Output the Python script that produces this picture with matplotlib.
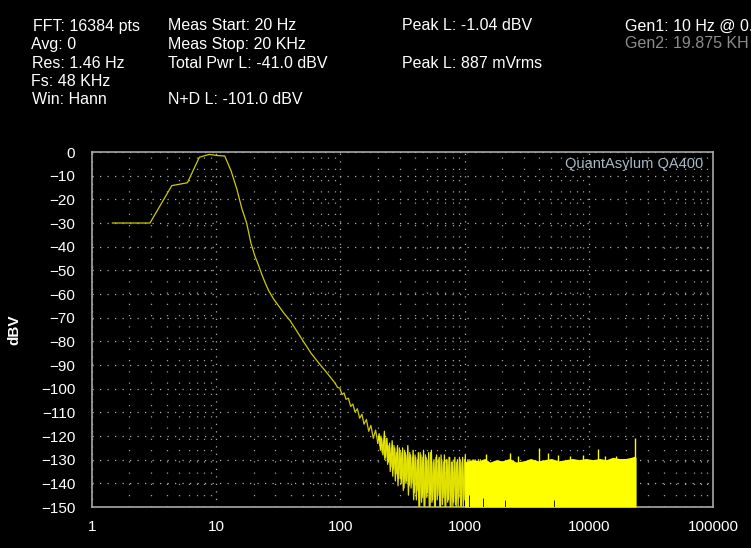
import matplotlib
matplotlib.use('Agg')
from matplotlib import pyplot as plt
from matplotlib.ticker import FixedLocator, NullFormatter

plt.rcParams['font.family'] = ['Liberation Sans', 'DejaVu Sans']

# spectrum trace, low part (Hz, dBV)
trace_hz = [1.46, 2.93, 4.39, 5.86, 7.32, 8.79, 10.25, 11.72, 13.18, 14.65,
            16.11, 17.58, 19.04, 20.5, 21.97, 23.4, 24.9, 26.4, 27.8, 29.3,
            30.8, 35, 39.3, 45, 50.3, 58, 68.5, 77, 85, 90,
            95, 99, 103, 107, 111, 116, 121, 126, 131, 137,
            143, 149, 155, 162, 169, 176, 184, 192, 200]
trace_db = [-30, -30, -14.2, -13, -2.2, -1.0, -1.5, -1.7, -8, -15.6,
            -24, -30, -38.5, -44, -48, -52, -55.5, -58.5, -60.5, -62.5,
            -64, -68, -71.2, -76, -80, -85, -89.8, -93, -95.8, -97.5,
            -99.5, -99.8, -102.5, -101.8, -104.5, -104.0, -107.5, -106.5, -109.8, -108.5,
            -112.5, -110.8, -115.0, -113.0, -118.0, -115.5, -121.0, -117.5, -123.0]

# noise floor, zigzag part (two interleaved sweeps)
noise_hz = [205, 210, 215, 220, 226, 231, 237, 243, 249, 255, 261, 267, 274, 281,
            288, 295, 302, 309, 317, 325, 333, 341, 349, 358, 367, 376, 385, 394,
            404, 414, 424, 434, 445, 456, 467, 478, 490, 502, 514, 527, 540, 553,
            567, 581, 595, 609, 624, 640, 655, 671, 688, 705, 722, 740, 758, 776,
            795, 815, 835, 855, 876, 898, 920, 942, 965, 989, 1013, 1038, 1063,
            1089, 1116, 1143, 1171, 1200, 1229, 1260, 1290, 1322, 1355, 1388]
noise_db = [-119, -126, -121, -128, -118, -129, -121, -131, -123, -133, -122, -134, -125, -136,
            -124, -138, -126, -140, -125, -142, -127, -139, -124, -141, -128, -140, -126, -144,
            -129, -143, -127, -150, -128, -146, -126, -150, -129, -144, -127, -150, -126, -147,
            -130, -150, -128, -145, -129, -150, -130, -146, -128, -150, -130, -147, -129, -150,
            -131, -148, -129, -150, -130, -146, -130, -150, -129, -147, -128, -150, -130,
            -148, -131, -150, -130, -149, -131, -150, -130, -150, -131, -150]

noise2_hz = [207, 212, 217, 223, 228, 234, 240, 246, 252, 258, 264, 270, 277, 284,
             291, 298, 305, 313, 321, 329, 337, 345, 353, 362, 371, 380, 389, 399,
             409, 419, 429, 439, 450, 461, 472, 484, 496, 508, 520, 533, 546, 560,
             574, 588, 602, 616, 632, 647, 663, 679, 696, 713, 731, 749, 767, 785,
             805, 825, 845, 865, 887, 909, 931, 953, 977, 1001, 1025, 1050, 1076,
             1102, 1129, 1157, 1185, 1214, 1244, 1275, 1306, 1338, 1371, 1400]
noise2_db = [-124, -120, -127, -122, -130, -121, -132, -124, -135, -125, -137, -124, -139, -127,
             -141, -125, -138, -127, -143, -126, -140, -128, -145, -127, -142, -129, -147, -128,
             -147, -130, -150, -127, -148, -129, -150, -128, -146, -130, -150, -127, -148, -131,
             -150, -129, -147, -130, -150, -128, -149, -131, -150, -130, -148, -129, -150, -131,
             -150, -130, -149, -131, -150, -129, -150, -131, -150, -130, -150, -131, -150,
             -130, -150, -131, -150, -130, -150, -131, -150, -130, -150, -131]

# noise floor, solid part: top envelope
floor_hz = [1000, 1150, 1300, 1450, 1600, 1800, 2000, 2300, 2600, 3000, 3400, 3900, 4400, 5000,
            5700, 6500, 7400, 8400, 9500, 10800, 12200, 13800, 15600, 17600, 19800,
            22000, 23400, 24000]
floor_db = [-131, -130, -130.5, -129.5, -131, -130, -130.5, -129.5, -131, -130.5, -129.5, -130.5,
            -130, -129.5, -130.5, -130, -129.5, -130, -129.5, -130, -129.5, -130, -129, -129.5,
            -129.5, -129, -128.5, -129]

# isolated spikes
spike_hz = [1500, 2320, 2700, 4000, 4670, 5600, 7000, 9000, 11900, 13500, 16500, 23550]
spike_db = [-127.5, -127.3, -128.5, -125.2, -127, -128, -128.5, -128, -125.6, -128.5, -128.5, -121]

# dark gaps inside the floor
gap_hz = [1080, 1400, 2100, 5200]
gap_db = [-145, -146, -147, -147]

fig = plt.figure(figsize=(7.51, 5.48), dpi=100, facecolor='black')
ax = fig.add_axes([0.1225, 0.0748, 0.8269, 0.6478])
ax.set_facecolor('black')

ax.plot(trace_hz, trace_db, color='#cccc00', lw=0.9, zorder=3)
ax.plot([trace_hz[-1]] + noise_hz, [trace_db[-1]] + noise_db, color='#eeee00', lw=0.9, zorder=3)
ax.plot(noise2_hz, noise2_db, color='#e0e000', lw=0.9, zorder=3)
ax.fill_between(floor_hz, floor_db, -150, color='#ffff00', lw=0, zorder=3)
ax.vlines(spike_hz, -150, spike_db, color='#ffff00', lw=1.0, zorder=3)
ax.vlines(gap_hz, -150, gap_db, color='black', lw=0.6, zorder=4)

ax.set_xscale('log')
ax.set_xlim(1, 100000)
ax.set_ylim(-150, 0)

ax.xaxis.set_major_locator(FixedLocator([1, 10, 100, 1000, 10000, 100000]))
ax.set_xticklabels(['1', '10', '100', '1000', '10000', '100000'])
minors = [m * d for d in [1, 10, 100, 1000, 10000] for m in range(2, 10)]
ax.xaxis.set_minor_locator(FixedLocator(minors))
ax.xaxis.set_minor_formatter(NullFormatter())
ax.set_yticks(range(-150, 1, 10))

ax.tick_params(which='both', length=0, colors='white', labelsize=11)
ax.tick_params(axis='y', pad=12)
ax.tick_params(axis='x', pad=9)

ax.grid(which='major', axis='y', color='#b0b0b0', lw=0.9, linestyle=(0, (1, 5)))
ax.grid(which='major', axis='x', color='#b0b0b0', lw=0.9, linestyle=(0, (1, 5)))
ax.grid(which='minor', axis='x', color='#a0a0a0', lw=0.9, linestyle=(0, (1, 8)))

for s in ax.spines.values():
    s.set_color('#a8a8a8')
    s.set_linewidth(1.2)

ax.set_ylabel('dBV', color='white', fontsize=11, fontweight='bold', labelpad=14)

ax.text(0.985, 0.965, 'QuantAsylum QA400', transform=ax.transAxes, ha='right', va='center',
        color='#a8b8c8', fontsize=10.5, zorder=5)

# header block
hdr = [
    (33, 26, 'FFT: 16384 pts', 'white'),
    (31, 44, 'Avg: 0', 'white'),
    (32, 63, 'Res: 1.46 Hz', 'white'),
    (31, 81, 'Fs: 48 KHz', 'white'),
    (32, 100, 'Win: Hann', 'white'),
    (168, 26, 'Meas Start: 20 Hz', 'white'),
    (168, 44, 'Meas Stop: 20 KHz', 'white'),
    (168, 63, 'Total Pwr L: -41.0 dBV', 'white'),
    (168, 100, 'N+D L: -101.0 dBV', 'white'),
    (402, 26, 'Peak L: -1.04 dBV', 'white'),
    (402, 63, 'Peak L: 887 mVrms', 'white'),
    (625, 26, 'Gen1: 10 Hz @ 0.', 'white'),
    (625, 44, 'Gen2: 19.875 KH', '#8c8c8c'),
]
for x, y, s, c in hdr:
    fig.text(x / 751, 1 - y / 548, s, color=c, fontsize=11.5, ha='left', va='center')

plt.savefig('out.png', dpi=100, facecolor='black')
